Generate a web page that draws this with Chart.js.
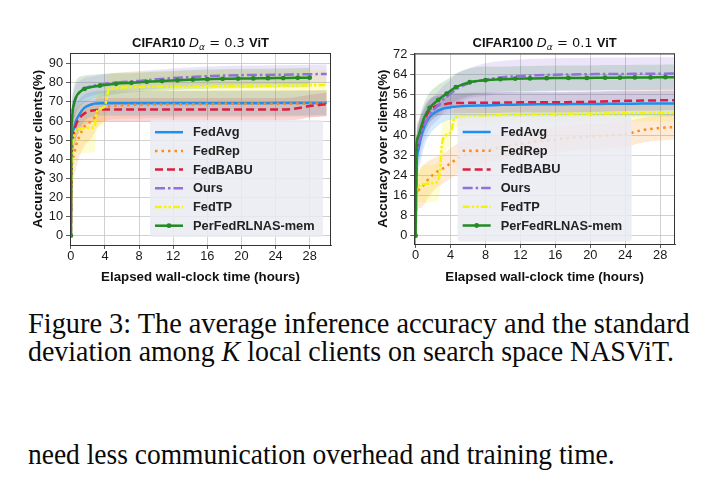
<!DOCTYPE html>
<html>
<head>
<meta charset="utf-8">
<script src="https://cdn.jsdelivr.net/npm/chart.js@4.4.0/dist/chart.umd.min.js"></script>
<style>
  body { margin: 0; background: #fff; width: 715px; height: 477px; overflow: hidden; position: relative; }
  canvas { position: absolute; }
  .cap { position: absolute; left: 28px; font-family: "Liberation Serif", serif; font-size: 30px; line-height: 30px;
         white-space: nowrap; transform-origin: 0 0; color: #0a0a0a; }
</style>
</head>
<body>
<canvas id="c10" width="350" height="265" style="left:0;top:20px"></canvas>
<canvas id="c100" width="365" height="265" style="left:350px;top:20px"></canvas>
<div class="cap" data-w="662" style="top:308px">Figure 3: The average inference accuracy and the standard</div>
<div class="cap" data-w="646" style="top:336px">deviation among <i>K</i> local clients on search space NASViT.</div>
<div class="cap" data-w="587" style="top:439px">need less communication overhead and training time.</div>
<script>
// shared time grid (hours)
const hours = [0, 0.1, 0.3, 0.6, 1, 1.6, 2.5, 2.8, 3, 3.5, 4, 4.5, 5, 6, 8, 10, 12, 14, 16, 18, 20, 22, 24, 26, 28, 30];
const xTicks = [0, 4, 8, 12, 16, 20, 24, 28];

// CIFAR10, D_alpha = 0.3
const c10FedAvg     = [0, 45, 55, 60, 63.5, 67, 68.8, 69.1, 69.2, 69.3, 69.3, 69.3, 69.3, 69.3, 69.3, 69.3, 69.3, 69.3, 69.3, 69.3, 69.3, 69.3, 69.4, 69.4, 69.4, 69.5];
const c10FedAvgStd  = [0, 10, 10, 9, 8, 7, 6.5, 6.5, 6.5, 6.5, 6.5, 6.5, 6.5, 6.5, 6.5, 6.5, 6.5, 6.5, 6.5, 6.5, 6.5, 6.5, 6.5, 6.5, 6.5, 6.5];
const c10FedRep     = [0, 35, 41.5, 47, 52, 57, 60.5, 62, 64, 66, 67, 67.7, 68, 68.3, 68.5, 68.6, 68.7, 68.8, 68.9, 69, 69, 69, 69, 69.1, 69.2, 69.2];
const c10FedRepStd  = [0, 10, 12, 12, 11, 10, 9, 8, 8, 7.5, 7, 7, 7, 7, 7, 7, 7, 7, 7, 7, 7, 7, 7, 7, 7, 7];
const c10FedBABU    = [0, 42, 53, 58, 61.5, 64, 65.5, 65.7, 65.8, 66, 66, 66, 66, 66, 66, 66, 66, 66, 66, 66, 66, 66, 66, 66.3, 67.8, 68.8];
const c10FedBABUStd = [0, 9, 9, 8, 7, 6.5, 6, 6, 6, 6, 6, 6, 6, 6, 6, 6, 6, 6, 6, 6, 6, 6, 6, 6, 6, 6];
const c10Ours       = [0, 58, 67, 72, 75, 77, 78.3, 78.6, 78.8, 79.2, 79.5, 79.8, 80, 80.4, 81, 81.8, 82.5, 83, 83.5, 83.8, 84, 84.1, 84.2, 84.3, 84.5, 84.6];
const c10OursStd    = [0, 8, 8, 7, 6, 5.5, 5, 5, 5, 5, 5, 5, 5, 5, 5, 5, 5, 5, 5, 5, 5, 5, 5, 5, 5, 5];
const c10FedTP      = [0, 40, 50, 55, 56, 56.2, 56.5, 57, 64, 66.5, 68, 77, 77.3, 77.5, 77.8, 78, 78.1, 78.2, 78.3, 78.4, 78.4, 78.5, 78.5, 78.6, 78.7, 78.8];
const c10FedTPStd   = [0, 12, 13, 13, 13, 13, 13, 13, 10, 9, 9, 8, 8, 8, 8, 8, 8, 8, 8, 8, 8, 8, 8, 8, 8, 8];
const c10HoursPer   = [0, 0.05, 0.15, 0.3, 0.6, 1, 1.6, 3.4, 5.3, 7.1, 8.9, 10.7, 12.5, 14.3, 16, 17.8, 19.6, 21.4, 23.1, 24.9, 26.6, 28];
const c10PerFed     = [0, 50, 62, 68, 72.5, 75, 76.8, 78.5, 79.5, 80, 80.5, 80.9, 81.3, 81.7, 81.9, 82.1, 82.2, 82.3, 82.4, 82.5, 82.6, 82.7];
const c10PerFedStd  = [0, 8, 9, 9, 8.5, 8, 7, 6, 5.5, 5, 5, 5, 5, 5, 5, 5, 5, 5, 5, 5, 5, 5];

// CIFAR100, D_alpha = 0.1
const c100FedAvg     = [0, 27, 34, 39, 43.5, 47.2, 49.5, 50, 50.3, 50.8, 51.1, 51.3, 51.5, 51.7, 51.8, 52, 52.1, 52.2, 52.2, 52.3, 52.3, 52.4, 52.4, 52.5, 52.5, 52.5];
const c100FedAvgStd  = [0, 8, 9, 9, 8, 7, 6, 5.5, 5.5, 5, 5, 5, 5, 5, 5, 5, 5, 5, 5, 5, 5, 5, 5, 5, 5, 5];
const c100FedRep     = [0, 16, 18, 19, 20.5, 23, 25.5, 26, 26.5, 27.5, 28.8, 30, 31, 32.5, 34, 35.3, 36.5, 37.5, 38.2, 39, 39.5, 39.8, 40.3, 42, 42.8, 43.3];
const c100FedRepStd  = [0, 6, 7, 8, 8, 7, 6, 6, 6, 6, 6, 6, 6, 5.5, 5, 5, 5, 5, 5, 5, 5, 5, 5, 5, 5, 5];
const c100FedBABU    = [0, 30, 38, 42, 46, 49.8, 51.8, 52, 52.1, 52.4, 52.6, 52.7, 52.7, 52.8, 52.8, 52.9, 53, 53, 53, 53.1, 53.2, 53.4, 53.6, 53.7, 53.8, 53.9];
const c100FedBABUStd = [0, 7, 7, 6, 5, 4.5, 4, 4, 4, 4, 4, 4, 4, 4, 4, 4, 4, 4, 4, 4, 4, 4, 4, 4, 4, 4];
const c100Ours       = [0, 30, 36, 40, 44, 48, 51.5, 52.5, 53.5, 55, 56.5, 57.8, 59, 60.5, 62, 63, 63.5, 63.8, 64, 64.1, 64.2, 64.3, 64.3, 64.4, 64.4, 64.5];
const c100OursStd    = [0, 8, 8, 7, 6, 5.5, 5.5, 5.5, 5.5, 5.5, 5.5, 6, 6, 6, 6.5, 6.5, 6.5, 6.5, 6.5, 6.5, 6.5, 6.5, 6.5, 6.5, 6.5, 6.5];
const c100FedTP      = [0, 17, 19.5, 20.3, 20.5, 20.8, 21.4, 26, 36, 40, 41, 47, 47.2, 47.4, 47.7, 48, 48.2, 48.3, 48.4, 48.5, 48.5, 48.6, 48.7, 48.8, 48.8, 48.9];
const c100FedTPStd   = [0, 5, 6, 7, 7.5, 7.5, 7.5, 7, 7, 6, 5, 4, 4, 3.5, 3.5, 3.5, 3.5, 3.5, 3.5, 3.5, 3.5, 3.5, 3.5, 3.5, 3.5, 3.5];
const c100HoursPer   = [0, 0.1, 0.3, 0.6, 1, 1.6, 2.6, 3.55, 4.6, 6.2, 8, 9.7, 11.4, 13.1, 15, 17.5, 19.6, 21.7, 23.4, 25.1, 26.9, 28.6, 30];
const c100PerFed     = [0, 36, 39.5, 43, 47, 50.8, 54, 56.5, 59, 61, 61.8, 62.2, 62.4, 62.5, 62.6, 62.7, 62.7, 62.8, 62.8, 62.9, 62.9, 63, 63];
const c100PerFedStd  = [0, 5, 6, 6, 6, 6, 6, 5.5, 5.5, 5.5, 5.5, 5, 5, 5, 5, 5, 5, 5, 5, 5, 5, 5, 5];

const styles = {
  FedAvg:  { color: '#1e8ff0', dash: [] },
  FedRep:  { color: '#ff8c1a', dash: [2.5, 4] },
  FedBABU: { color: '#dc1f3e', dash: [8, 4] },
  Ours:    { color: '#9370db', dash: [10, 3, 2.5, 3] },
  FedTP:   { color: '#f5f500', dash: [7, 2, 2.5, 2, 2.5, 2] },
  'PerFedRLNAS-mem': { color: '#228b22', dash: [], marker: true }
};

function pts(xs, ys) { return xs.map((x, i) => ({ x: x, y: ys[i] })); }
function rgba(hex, a) {
  const n = parseInt(hex.slice(1), 16);
  return `rgba(${n >> 16},${(n >> 8) & 255},${n & 255},${a})`;
}

function buildDatasets(series) {
  const lines = [], bands = [];
  series.forEach(s => {
    const st = styles[s.label];
    lines.push({
      label: s.label, data: pts(s.x, s.mean), borderColor: st.color, borderWidth: 2.5,
      borderDash: st.dash, marker: !!st.marker, fill: false, cubicInterpolationMode: 'monotone',
      pointRadius: st.marker ? (c => (c.raw && (c.raw.x === 0 || c.raw.x >= 1.5)) ? 2.4 : 0) : 0,
      pointBackgroundColor: st.color, pointBorderWidth: 0
    });
    bands.push({ label: '', band: true, data: pts(s.x, s.mean.map((m, i) => m + s.std[i])),
      borderWidth: 0, pointRadius: 0, fill: false, cubicInterpolationMode: 'monotone' });
    bands.push({ label: '', band: true, data: pts(s.x, s.mean.map((m, i) => m - s.std[i])),
      borderWidth: 0, pointRadius: 0, fill: '-1', backgroundColor: rgba(st.color, 0.18),
      cubicInterpolationMode: 'monotone' });
  });
  // first dataset is drawn on top, so the last series goes first
  return lines.reverse().concat(bands);
}

const frame = {
  id: 'frame',
  afterDatasetsDraw(chart) {
    const { ctx, chartArea: a } = chart;
    ctx.save();
    ctx.strokeStyle = '#333'; ctx.lineWidth = 1;
    ctx.strokeRect(a.left + 0.5, a.top + 0.5, a.right - a.left - 1, a.bottom - a.top);
    ctx.restore();
  }
};

const boxLegend = {
  id: 'boxLegend',
  afterDatasetsDraw(chart, args, o) {
    const { ctx, chartArea: a } = chart;
    const items = chart.data.datasets.filter(d => !d.band).reverse();
    const x = o.align === 'center' ? (a.left + a.right) / 2 - o.width / 2 : a.right - o.margin - o.width;
    const y = a.bottom - o.margin - o.height;
    ctx.save();
    ctx.fillStyle = 'rgba(234,234,242,0.85)';
    ctx.beginPath();
    ctx.roundRect(x, y, o.width, o.height, 3);
    ctx.fill();
    items.forEach((d, i) => {
      const cy = y + o.first + i * o.gap;
      ctx.strokeStyle = d.borderColor; ctx.lineWidth = 2.5;
      ctx.setLineDash(d.borderDash || []);
      ctx.beginPath(); ctx.moveTo(x + 5, cy); ctx.lineTo(x + 33, cy); ctx.stroke();
      ctx.setLineDash([]);
      if (d.marker) {
        ctx.fillStyle = d.borderColor;
        ctx.beginPath(); ctx.arc(x + 19, cy, 2.4, 0, Math.PI * 2); ctx.fill();
      }
      ctx.fillStyle = '#222';
      ctx.font = 'bold 12.8px "Liberation Sans"';
      ctx.textBaseline = 'middle';
      ctx.fillText(d.label, x + 43, cy + 0.5);
    });
    ctx.restore();
  }
};

const mathTitle = {
  id: 'mathTitle',
  afterDraw(chart, args, o) {
    const { ctx, chartArea: a } = chart;
    ctx.save();
    ctx.textBaseline = 'alphabetic';
    let total = 0;
    o.parts.forEach(p => { ctx.font = p.font; total += ctx.measureText(p.text).width; });
    let x = (a.left + a.right) / 2 - total / 2;
    ctx.fillStyle = '#111';
    o.parts.forEach(p => {
      ctx.font = p.font;
      ctx.fillText(p.text, x, o.y + (p.dy || 0));
      x += ctx.measureText(p.text).width;
    });
    ctx.restore();
  }
};

function titleParts(name, val) {
  return [
    { text: name + ' ', font: 'bold 13px "Liberation Sans"' },
    { text: 'D', font: 'italic 13px "DejaVu Sans"' },
    { text: 'α', font: 'italic 9px "DejaVu Sans"', dy: 2.5 },
    { text: ' = ' + val + ' ', font: '13px "DejaVu Sans"' },
    { text: 'ViT', font: 'bold 13px "Liberation Sans"' }
  ];
}

function makeChart(id, o) {
  const tickFont = { family: 'Liberation Sans', size: 12.8 };
  const titleFont = { family: 'Liberation Sans', size: 13.3, weight: 'bold' };
  const grid = { color: '#c4c4c4', borderDash: [1, 2], lineWidth: 0.8, tickLength: 4, tickColor: '#333', tickBorderDash: [] };
  new Chart(document.getElementById(id), {
    type: 'line',
    data: { datasets: buildDatasets(o.series) },
    options: {
      responsive: false, animation: false, devicePixelRatio: 1,
      layout: { padding: { top: o.padTop, right: o.padRight, left: 0, bottom: 0 } },
      scales: {
        x: {
          type: 'linear', min: o.xMin, max: o.xMax,
          afterFit: s => { s.height = o.xHeight; },
          afterBuildTicks: s => { s.ticks = xTicks.map(v => ({ value: v })); },
          ticks: { font: tickFont, color: '#1a1a1a', padding: 0, maxRotation: 0 },
          grid: grid, border: { color: '#333', width: 1 },
          title: { display: true, text: 'Elapsed wall-clock time (hours)', font: titleFont, color: '#111', padding: { top: o.xTitlePad, bottom: 0 } }
        },
        y: {
          min: o.yMin, max: o.yMax,
          afterFit: s => { s.width = o.yWidth; },
          afterBuildTicks: s => { s.ticks = o.yTicks.map(v => ({ value: v })); },
          ticks: { font: tickFont, color: '#1a1a1a', padding: 3 },
          grid: grid, border: { color: '#333', width: 1 },
          title: { display: true, text: 'Accuracy over clients(%)', font: titleFont, color: '#111', padding: { top: o.yTitlePad, bottom: 0 } }
        }
      },
      plugins: {
        legend: { display: false }, tooltip: { enabled: false },
        boxLegend: o.legend,
        mathTitle: { parts: o.title, y: 27.3 }
      }
    },
    plugins: [frame, boxLegend, mathTitle]
  });
}

makeChart('c10', {
  title: titleParts('CIFAR10', '0.3'),
  xMin: -0.1, xMax: 30.5, yMin: -4.9, yMax: 95.6,
  yTicks: [0, 10, 20, 30, 40, 50, 60, 70, 80, 90],
  padTop: 33, padRight: 19, xHeight: 40, yWidth: 70, xTitlePad: 7, yTitlePad: 30,
  legend: { align: 'right', margin: 8, width: 173, height: 117, first: 12.2, gap: 18.7 },
  series: [
    { label: 'FedAvg', x: hours, mean: c10FedAvg, std: c10FedAvgStd },
    { label: 'FedRep', x: hours, mean: c10FedRep, std: c10FedRepStd },
    { label: 'FedBABU', x: hours, mean: c10FedBABU, std: c10FedBABUStd },
    { label: 'Ours', x: hours, mean: c10Ours, std: c10OursStd },
    { label: 'FedTP', x: hours, mean: c10FedTP, std: c10FedTPStd },
    { label: 'PerFedRLNAS-mem', x: c10HoursPer, mean: c10PerFed, std: c10PerFedStd }
  ]
});

makeChart('c100', {
  title: titleParts('CIFAR100', '0.1'),
  xMin: -0.15, xMax: 29.7, yMin: -3.3, yMax: 72.5,
  yTicks: [0, 8, 16, 24, 32, 40, 48, 56, 64, 72],
  padTop: 33.3, padRight: 40, xHeight: 41, yWidth: 64.3, xTitlePad: 8.7, yTitlePad: 25,
  legend: { align: 'center', margin: 2.5, width: 174, height: 125, first: 15.5, gap: 18.7 },
  series: [
    { label: 'FedAvg', x: hours, mean: c100FedAvg, std: c100FedAvgStd },
    { label: 'FedRep', x: hours, mean: c100FedRep, std: c100FedRepStd },
    { label: 'FedBABU', x: hours, mean: c100FedBABU, std: c100FedBABUStd },
    { label: 'Ours', x: hours, mean: c100Ours, std: c100OursStd },
    { label: 'FedTP', x: hours, mean: c100FedTP, std: c100FedTPStd },
    { label: 'PerFedRLNAS-mem', x: c100HoursPer, mean: c100PerFed, std: c100PerFedStd }
  ]
});

// fit the caption lines to the reference widths
document.querySelectorAll('.cap').forEach(el => {
  el.style.transform = 'scaleX(' + (el.dataset.w / el.offsetWidth) + ')';
});
</script>
</body>
</html>
